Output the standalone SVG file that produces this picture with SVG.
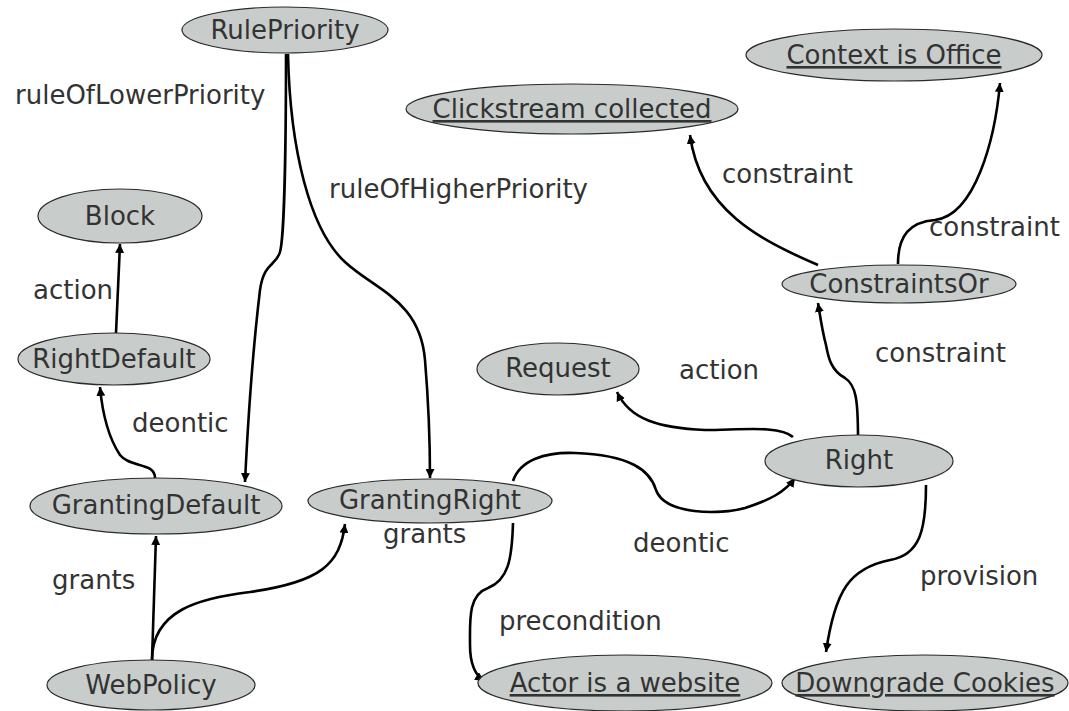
<svg xmlns="http://www.w3.org/2000/svg" width="1069" height="711" viewBox="0 0 1069 711">
<defs>
<marker id="ah" viewBox="0 0 10 10" refX="10" refY="5" markerWidth="9" markerHeight="9" markerUnits="userSpaceOnUse" orient="auto">
<path d="M0,0 L10,5 L0,10 z" fill="#000"/>
</marker>
<style>
.node ellipse{fill:#c8cdcb;stroke:#2a2a2a;stroke-width:1.2}
.node text{font-family:"DejaVu Sans",sans-serif;font-size:26px;fill:#333;text-anchor:middle}
.u{text-decoration:underline}
#edges path{fill:none;stroke:#000;stroke-width:2.6;marker-end:url(#ah)}
.lbl{font-family:"DejaVu Sans",sans-serif;font-size:26px;fill:#333}
</style>
</defs>
<rect width="1069" height="711" fill="#fff"/>
<g id="edges">
<path d="M286,54 C286,150 284,238 280,252 C276,266 264,262 260,290 C254,340 248,420 245,482"/>
<path d="M288,54 C290,150 310,230 345,262 C375,290 420,300 425,360 C430,420 430,450 430,478"/>
<path d="M116,333 L120,244"/>
<path d="M155,478 C155,462 130,468 120,455 C110,440 103,420 100,387"/>
<path d="M152,660 L156,536"/>
<path d="M152,660 C152,610 200,598 250,592 C320,582 340,565 345,524"/>
<path d="M513,481 C520,460 545,452 575,453 C630,455 650,470 656,490 C665,515 720,515 745,508 C770,500 785,492 795,478"/>
<path d="M513,523 C512,560 508,580 488,588 C468,595 470,620 470,645 C470,665 475,675 484,681"/>
<path d="M793,437 C780,425 740,430 705,430 C660,428 630,420 617,392"/>
<path d="M858,438 C858,400 856,385 845,378 C830,370 828,355 826,345 C822,330 820,315 818,303"/>
<path d="M818,265 C760,240 700,210 690,135"/>
<path d="M898,264 C898,235 910,222 935,220 C975,215 995,140 1000,83"/>
<path d="M926,485 C926,530 920,555 890,560 C850,568 835,590 826,652"/>
</g>
<g id="labels">
<text class="lbl" x="15" y="104">ruleOfLowerPriority</text>
<text class="lbl" x="329" y="198">ruleOfHigherPriority</text>
<text class="lbl" x="722" y="183">constraint</text>
<text class="lbl" x="929" y="236">constraint</text>
<text class="lbl" x="33" y="299">action</text>
<text class="lbl" x="875" y="362">constraint</text>
<text class="lbl" x="679" y="379">action</text>
<text class="lbl" x="132" y="432">deontic</text>
<text class="lbl" x="383" y="543">grants</text>
<text class="lbl" x="633" y="552">deontic</text>
<text class="lbl" x="52" y="589">grants</text>
<text class="lbl" x="920" y="585">provision</text>
<text class="lbl" x="499" y="630">precondition</text>
</g>
<g id="RulePriority" class="node"><ellipse cx="285" cy="30" rx="103" ry="23"/><text x="285" y="39">RulePriority</text></g>
<g id="Clickstream" class="node"><ellipse cx="572" cy="109" rx="166" ry="25"/><text class="u" x="572" y="118">Clickstream collected</text></g>
<g id="ContextOffice" class="node"><ellipse cx="894" cy="55" rx="148" ry="26"/><text class="u" x="894" y="64">Context is Office</text></g>
<g id="Block" class="node"><ellipse cx="120" cy="216" rx="82" ry="27"/><text x="120" y="225">Block</text></g>
<g id="RightDefault" class="node"><ellipse cx="114" cy="359" rx="96" ry="26"/><text x="114" y="368">RightDefault</text></g>
<g id="ConstraintsOr" class="node"><ellipse cx="899" cy="284" rx="117" ry="19"/><text x="899" y="293">ConstraintsOr</text></g>
<g id="Request" class="node"><ellipse cx="558" cy="369" rx="81" ry="26"/><text x="558" y="377">Request</text></g>
<g id="Right" class="node"><ellipse cx="859" cy="461" rx="94" ry="26"/><text x="859" y="469">Right</text></g>
<g id="GrantingDefault" class="node"><ellipse cx="156" cy="506" rx="126" ry="28"/><text x="156" y="514">GrantingDefault</text></g>
<g id="GrantingRight" class="node"><ellipse cx="430" cy="501" rx="122" ry="22"/><text x="430" y="509">GrantingRight</text></g>
<g id="WebPolicy" class="node"><ellipse cx="151" cy="685" rx="104" ry="25"/><text x="151" y="694">WebPolicy</text></g>
<g id="ActorWebsite" class="node"><ellipse cx="625" cy="683" rx="147" ry="28"/><text class="u" x="625" y="692">Actor is a website</text></g>
<g id="DowngradeCookies" class="node"><ellipse cx="925" cy="683" rx="143" ry="28"/><text class="u" x="925" y="692">Downgrade Cookies</text></g>
</svg>
